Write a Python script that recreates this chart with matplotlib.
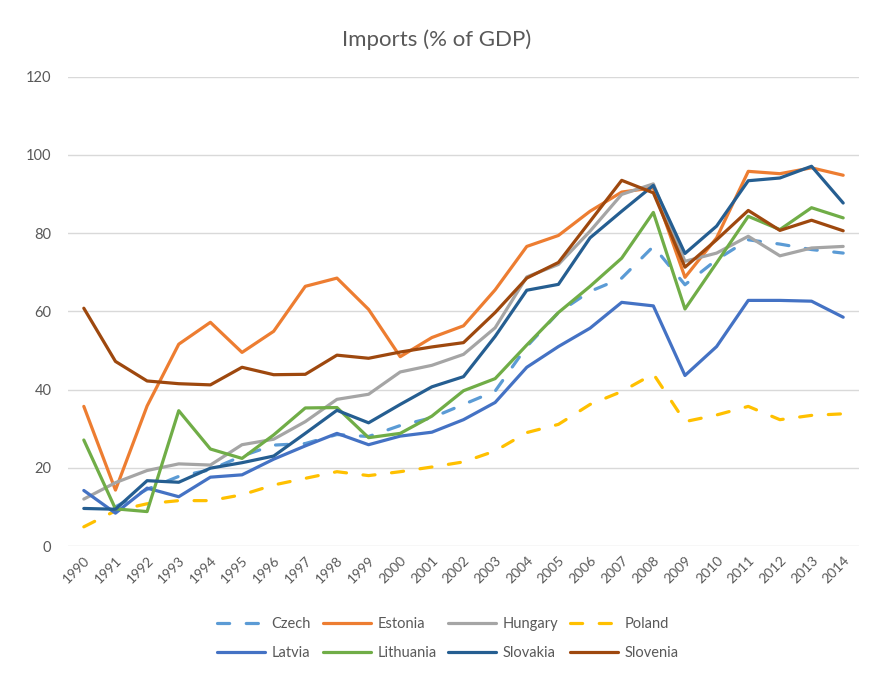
"""
Imports (% of GDP) - Central/Eastern European countries, 1990-2014
Excel-style line chart.
"""

import matplotlib
matplotlib.use('Agg')
import matplotlib.pyplot as plt
import numpy as np

# ===== 数据 =====
years = list(range(1990, 2015))

czech = [np.nan, 10.0, 14.5, 17.8, 19.5, 23.0, 25.8, 26.2, 28.5, 28.0,
         30.8, 32.8, 36.2, 39.6, 51.0, 59.7, 65.1, 68.5, 76.6, 66.8,
         73.2, 78.3, 77.2, 75.8, 74.9]
estonia = [35.7, 14.3, 35.8, 51.6, 57.2, 49.5, 54.9, 66.4, 68.5, 60.5,
           48.4, 53.3, 56.3, 65.5, 76.6, 79.4, 85.6, 90.5, 91.6, 68.7,
           78.8, 95.8, 95.2, 96.7, 94.8]
hungary = [12.0, 16.2, 19.3, 21.0, 20.7, 25.9, 27.3, 31.8, 37.5, 38.8,
           44.5, 46.2, 49.0, 55.8, 68.8, 72.0, 80.5, 89.9, 92.6, 72.8,
           74.9, 79.2, 74.2, 76.2, 76.6]
poland = [4.9, 9.0, 10.8, 11.6, 11.6, 13.1, 15.6, 17.3, 19.0, 18.0,
          19.0, 20.2, 21.5, 24.3, 29.0, 31.1, 36.2, 39.5, 44.0, 31.8,
          33.5, 35.7, 32.3, 33.4, 33.8]
latvia = [14.2, 8.4, 14.8, 12.6, 17.6, 18.2, 22.2, 25.6, 28.8, 25.9,
          28.1, 29.1, 32.3, 36.7, 45.7, 51.0, 55.7, 62.3, 61.4, 43.6,
          51.0, 62.8, 62.8, 62.6, 58.5]
lithuania = [27.1, 9.5, 8.8, 34.6, 24.8, 22.4, 28.4, 35.3, 35.4, 27.7,
             28.8, 33.2, 39.7, 42.8, 51.4, 59.7, 66.4, 73.6, 85.3, 60.6,
             72.4, 84.3, 80.9, 86.5, 83.9]
slovakia = [9.6, 9.4, 16.7, 16.3, 19.9, 21.3, 23.0, 28.8, 34.7, 31.5,
            36.2, 40.7, 43.3, 53.6, 65.4, 66.9, 78.8, 85.6, 92.2, 74.8,
            81.8, 93.4, 94.1, 97.1, 87.7]
slovenia = [60.8, 47.2, 42.2, 41.5, 41.2, 45.7, 43.8, 43.9, 48.8, 48.0,
            49.6, 50.9, 52.0, 59.7, 68.5, 72.5, 83.0, 93.5, 90.3, 71.3,
            78.3, 85.8, 80.7, 83.3, 80.6]

# 图例顺序：按列排列（matplotlib 按列填充 ncol=4, 2 行）
series = [
    ("Czech", czech, '#5B9BD5', True),
    ("Latvia", latvia, '#4472C4', False),
    ("Estonia", estonia, '#ED7D31', False),
    ("Lithuania", lithuania, '#70AD47', False),
    ("Hungary", hungary, '#A5A5A5', False),
    ("Slovakia", slovakia, '#255E91', False),
    ("Poland", poland, '#FFC000', True),
    ("Slovenia", slovenia, '#9E480E', False),
]

TEXT = '#595959'
GRID = '#D9D9D9'
FONT = ['Lato', 'DejaVu Sans']

plt.rcParams['font.family'] = FONT

fig = plt.figure(figsize=(8.73, 6.75), dpi=100)
fig.patch.set_facecolor('white')
ax = fig.add_axes([68 / 873, 1 - 546 / 675, (859 - 68) / 873, (546 - 76.7) / 675])

x = np.arange(len(years))
# 绘制顺序：后画的压在上层
draw_order = ["Czech", "Estonia", "Hungary", "Poland", "Latvia", "Lithuania", "Slovakia", "Slovenia"]
handles = {}
for name in draw_order:
    label, vals, color, dashed = next(s for s in series if s[0] == name)
    line, = ax.plot(x, vals, color=color, lw=2.3, label=label,
                    solid_capstyle='round', dash_capstyle='round',
                    solid_joinstyle='round')
    if dashed:
        line.set_dashes((3.8, 5.2))
    handles[name] = line

ax.set_xlim(-0.5, len(years) - 0.5)
ax.set_ylim(0, 120)
ax.set_yticks(range(0, 121, 20))
ax.set_xticks(x)
ax.set_xticklabels([str(y) for y in years], rotation=45, ha='right',
                   rotation_mode='anchor', fontsize=10, color=TEXT)
ax.tick_params(axis='x', length=0, pad=6)
ax.tick_params(axis='y', length=0, pad=12, labelsize=10.5, labelcolor=TEXT)

ax.grid(axis='y', color=GRID, lw=1)
ax.set_axisbelow(True)
for sp in ax.spines.values():
    sp.set_visible(False)

fig.text(0.5, 1 - 40 / 675, 'Imports (% of GDP)', ha='center', va='center',
         fontsize=16, color=TEXT)

leg = fig.legend([handles[s[0]] for s in series], [s[0] for s in series],
                 ncol=4, loc='center', bbox_to_anchor=(448 / 873, 1 - 638.5 / 675),
                 frameon=False, fontsize=10.5, handlelength=3.3,
                 handletextpad=0.45, columnspacing=0.8, labelspacing=1.0,
                 labelcolor=TEXT)

fig.savefig('out.png', dpi=100, facecolor='white')
